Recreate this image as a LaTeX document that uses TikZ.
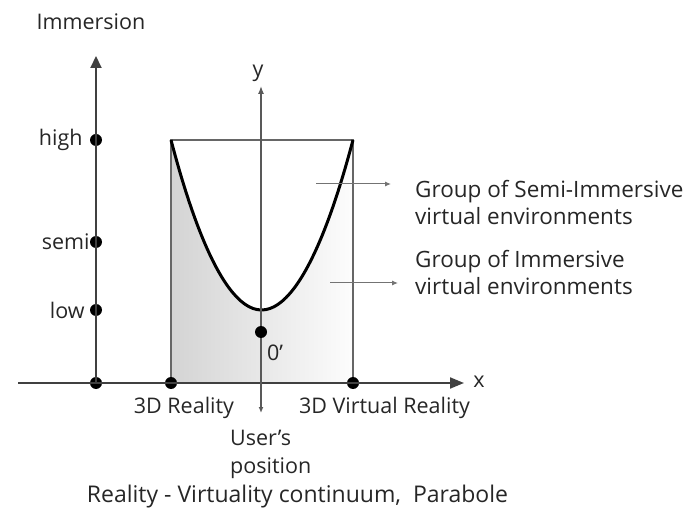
\documentclass[tikz,border=0pt]{standalone}
\usepackage{fontspec}
\setmainfont{Open Sans}
\usetikzlibrary{arrows.meta,positioning}

\begin{document}
\begin{tikzpicture}[x=10pt, y=-10pt,
    lbl/.style={font=\fontsize{21.5}{28}\selectfont, text=black!85, inner sep=0pt},
    dot/.style={circle, fill=black, inner sep=0pt, minimum size=12pt},
    axis/.style={draw=black!75, line width=2pt},
    pointer/.style={draw=black!55, line width=1pt, -{Latex[length=6pt,width=5pt]}}
]
\useasboundingbox (0,0) rectangle (68.3,52.1);

% shaded area under the parabola
\shade[left color=black!17, right color=black!1]
    (17.1,14) parabola bend (26.15,31) (35.3,14) -- (35.3,38.3) -- (17.1,38.3) -- cycle;
\draw[black!60, line width=1.6pt] (17.1,38.3) -- (17.1,14) -- (35.3,14) -- (35.3,38.3);
\draw[line width=3pt] (17.1,14) parabola bend (26.15,31) (35.3,14);

% immersion axis
\node[dot] (orig) at (9.6,38.3) {};
\node[dot] (high) at (9.6,14) {};
\node[dot] (semi) at (9.6,24.2) {};
\node[dot] (low) at (9.6,31) {};
\coordinate (imtop) at (9.6,5.6);
\draw[axis, -{Triangle[length=12pt,width=11pt]}] (orig.center) -- (imtop);
\node[lbl] (imm) at (9.1,2.2) {Immersion};
\node[lbl, left=7pt of high] {high};
\node[lbl, left=0pt of semi] {semi};
\node[lbl, left=5pt of low] {low};

% x axis
\node[dot] (real) at (17.1,38.3) {};
\node[dot] (vreal) at (35.3,38.3) {};
\coordinate (xstart) at (1.8,38.3);
\coordinate (xend) at (46.4,38.3);
\draw[axis, -{Triangle[length=14pt,width=11pt]}] (xstart) -- (xend);
\node[lbl] (xlab) at (47.9,38.2) {x};
\node[lbl] (reallab) at (18.4,40.8) {3D Reality};
\node[lbl] (vreallab) at (38.45,40.8) {3D Virtual Reality};

% y axis and user's position
\coordinate (ytop) at (26.1,8.6);
\coordinate (ybot) at (26.1,41.3);
\draw[draw=black!65, line width=1.3pt, {Latex[length=6pt,width=5pt]}-{Latex[length=8pt,width=6pt]}] (ybot) -- (ytop);
\node[lbl] (ylab) at (25.8,7.3) {y};
\node[dot] (zero) at (26.1,33.2) {};
\node[lbl] (zerolab) at (27.5,35.3) {0’};
\node[lbl, anchor=north west, align=left] (user) at (23.0,43.0) {User’s\\position};

% groups
\node[lbl, font=\fontsize{22.5}{27}\selectfont, anchor=west, align=left] (semigrp) at (41.5,20.3) {Group of Semi-Immersive\\virtual environments};
\node[lbl, font=\fontsize{22.5}{27}\selectfont, anchor=west, align=left] (immgrp) at (41.5,27.3) {Group of Immersive\\virtual environments};
\coordinate (semiin) at (31.6,18.4);
\coordinate (immin) at (33.0,28.3);
\draw[pointer, shorten >=24pt] (semiin) -- (semiin -| semigrp.west);
\draw[pointer, shorten >=17pt] (immin) -- (immin -| immgrp.west);

% caption
\node[lbl, font=\fontsize{23}{28}\selectfont] (caption) at (29.75,49.7) {Reality - Virtuality continuum,\ \ Parabole};
\end{tikzpicture}
\end{document}
